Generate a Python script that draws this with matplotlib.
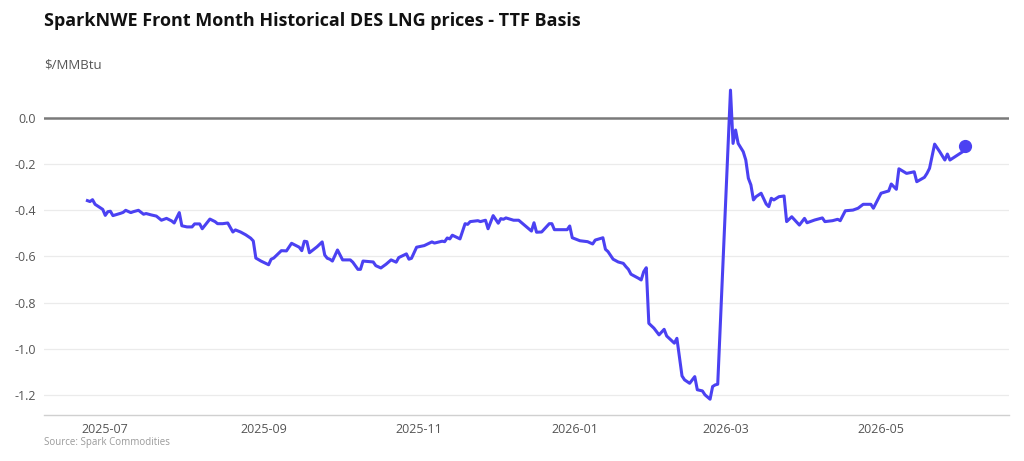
import pandas as pd
import matplotlib.pyplot as plt
import matplotlib.dates as mdates

plt.rcParams['font.family'] = ['Open Sans', 'DejaVu Sans']

# Front month DES LNG basis to TTF, $/MMBtu
dates = [
    "2025-06-24", "2025-06-25", "2025-06-26", "2025-06-27", "2025-06-30",
    "2025-07-01", "2025-07-02", "2025-07-03", "2025-07-04", "2025-07-07",
    "2025-07-08", "2025-07-09", "2025-07-11", "2025-07-12", "2025-07-14",
    "2025-07-16", "2025-07-17", "2025-07-19", "2025-07-21", "2025-07-23",
    "2025-07-25", "2025-07-27", "2025-07-28", "2025-07-30", "2025-07-31",
    "2025-08-02", "2025-08-04", "2025-08-05", "2025-08-07", "2025-08-08",
    "2025-08-11", "2025-08-13", "2025-08-14", "2025-08-16", "2025-08-18",
    "2025-08-20", "2025-08-21", "2025-08-23", "2025-08-25", "2025-08-27",
    "2025-08-28", "2025-08-29", "2025-08-31", "2025-09-03", "2025-09-04",
    "2025-09-05", "2025-09-08", "2025-09-10", "2025-09-12", "2025-09-15",
    "2025-09-16", "2025-09-17", "2025-09-18", "2025-09-19", "2025-09-22",
    "2025-09-24", "2025-09-25", "2025-09-26", "2025-09-27", "2025-09-28",
    "2025-09-30", "2025-10-02", "2025-10-05", "2025-10-06", "2025-10-08",
    "2025-10-09", "2025-10-10", "2025-10-13", "2025-10-14", "2025-10-15",
    "2025-10-17", "2025-10-19", "2025-10-21", "2025-10-23", "2025-10-24",
    "2025-10-27", "2025-10-28", "2025-10-29", "2025-10-31", "2025-11-03",
    "2025-11-06", "2025-11-07", "2025-11-10", "2025-11-11", "2025-11-12",
    "2025-11-13", "2025-11-14", "2025-11-17", "2025-11-19", "2025-11-20",
    "2025-11-21", "2025-11-24", "2025-11-25", "2025-11-27", "2025-11-28",
    "2025-11-30", "2025-12-02", "2025-12-03", "2025-12-04", "2025-12-05",
    "2025-12-08", "2025-12-10", "2025-12-13", "2025-12-15", "2025-12-16",
    "2025-12-17", "2025-12-19", "2025-12-22", "2025-12-23", "2025-12-24",
    "2025-12-29", "2025-12-30", "2025-12-31", "2026-01-02", "2026-01-03",
    "2026-01-06", "2026-01-08", "2026-01-09", "2026-01-12", "2026-01-13",
    "2026-01-14", "2026-01-16", "2026-01-18", "2026-01-20", "2026-01-21",
    "2026-01-22", "2026-01-23", "2026-01-26", "2026-01-27", "2026-01-28",
    "2026-01-29", "2026-01-30", "2026-02-01", "2026-02-03", "2026-02-05",
    "2026-02-06", "2026-02-09", "2026-02-10", "2026-02-12", "2026-02-13",
    "2026-02-15", "2026-02-17", "2026-02-18", "2026-02-20", "2026-02-21",
    "2026-02-23", "2026-02-24", "2026-02-25", "2026-02-26", "2026-03-03",
    "2026-03-04", "2026-03-05", "2026-03-06", "2026-03-08", "2026-03-09",
    "2026-03-10", "2026-03-11", "2026-03-12", "2026-03-13", "2026-03-15",
    "2026-03-17", "2026-03-18", "2026-03-19", "2026-03-20", "2026-03-22",
    "2026-03-24", "2026-03-25", "2026-03-27", "2026-03-30", "2026-04-01",
    "2026-04-02", "2026-04-05", "2026-04-08", "2026-04-09", "2026-04-12",
    "2026-04-14", "2026-04-15", "2026-04-17", "2026-04-20", "2026-04-22",
    "2026-04-24", "2026-04-27", "2026-04-28", "2026-05-01", "2026-05-04",
    "2026-05-05", "2026-05-07", "2026-05-08", "2026-05-11", "2026-05-14",
    "2026-05-15", "2026-05-18", "2026-05-19", "2026-05-20", "2026-05-22",
    "2026-05-24", "2026-05-26", "2026-05-27", "2026-05-28", "2026-06-02",
    "2026-06-03",
]

prices = [
    -0.358, -0.362, -0.354, -0.374, -0.396,
    -0.422, -0.406, -0.404, -0.423, -0.413,
    -0.409, -0.400, -0.410, -0.406, -0.400,
    -0.417, -0.414, -0.420, -0.425, -0.443,
    -0.435, -0.446, -0.455, -0.410, -0.467,
    -0.472, -0.472, -0.459, -0.459, -0.480,
    -0.438, -0.449, -0.458, -0.458, -0.455,
    -0.494, -0.485, -0.494, -0.506, -0.521,
    -0.533, -0.607, -0.620, -0.636, -0.612,
    -0.607, -0.575, -0.576, -0.543, -0.560,
    -0.575, -0.534, -0.536, -0.584, -0.558,
    -0.537, -0.594, -0.608, -0.612, -0.620,
    -0.572, -0.615, -0.615, -0.625, -0.656,
    -0.656, -0.620, -0.623, -0.624, -0.640,
    -0.650, -0.634, -0.615, -0.625, -0.605,
    -0.589, -0.612, -0.608, -0.560, -0.553,
    -0.537, -0.542, -0.534, -0.536, -0.520,
    -0.524, -0.508, -0.524, -0.458, -0.461,
    -0.449, -0.445, -0.449, -0.443, -0.480,
    -0.423, -0.456, -0.436, -0.439, -0.433,
    -0.443, -0.443, -0.471, -0.490, -0.454,
    -0.495, -0.494, -0.458, -0.458, -0.484,
    -0.484, -0.468, -0.519, -0.528, -0.532,
    -0.536, -0.546, -0.529, -0.519, -0.569,
    -0.579, -0.612, -0.624, -0.630, -0.644,
    -0.656, -0.677, -0.695, -0.702, -0.666,
    -0.649, -0.890, -0.911, -0.940, -0.916,
    -0.945, -0.976, -0.955, -1.118, -1.135,
    -1.150, -1.121, -1.178, -1.183, -1.200,
    -1.219, -1.164, -1.157, -1.154, 0.121,
    -0.110, -0.052, -0.110, -0.146, -0.182,
    -0.261, -0.290, -0.355, -0.341, -0.326,
    -0.373, -0.384, -0.348, -0.355, -0.341,
    -0.338, -0.449, -0.428, -0.464, -0.435,
    -0.454, -0.442, -0.433, -0.449, -0.445,
    -0.439, -0.445, -0.402, -0.399, -0.391,
    -0.374, -0.374, -0.391, -0.326, -0.316,
    -0.286, -0.309, -0.220, -0.240, -0.233,
    -0.276, -0.257, -0.240, -0.218, -0.113,
    -0.146, -0.182, -0.156, -0.182, -0.146,
    -0.121,
]

y_ticks = [0.0, -0.2, -0.4, -0.6, -0.8, -1.0, -1.2]
x_ticks = ["2025-07", "2025-09", "2025-11", "2026-01", "2026-03", "2026-05"]

df = pd.DataFrame({"date": pd.to_datetime(dates), "price": prices})

line_color = "#4b41f2"

fig = plt.figure(figsize=(10.24, 4.61), dpi=100)
ax = fig.add_axes([0.043, 0.10, 0.942, 0.72])

for t in y_ticks:
    if t == 0:
        ax.axhline(t, color="#7a7a7a", lw=1.8, zorder=1)
    else:
        ax.axhline(t, color="#ebebeb", lw=0.9, zorder=0)

ax.plot(df["date"], df["price"], color=line_color, lw=2.2, zorder=3,
        solid_joinstyle="round")
ax.plot(df["date"].iloc[-1], df["price"].iloc[-1], "o", color=line_color,
        markersize=8.5, zorder=4)

ax.set_ylim(-1.287, 0.152)
ax.set_xlim(pd.Timestamp("2025-06-07"), pd.Timestamp("2026-06-20"))
ax.set_yticks(y_ticks)
ax.set_yticklabels([f"{t:.1f}" for t in y_ticks])
ax.set_xticks(pd.to_datetime(x_ticks))
ax.xaxis.set_major_formatter(mdates.DateFormatter("%Y-%m"))

for s in ["top", "right", "left"]:
    ax.spines[s].set_visible(False)
ax.spines["bottom"].set_color("#d0d0d0")
ax.spines["bottom"].set_linewidth(1.0)
ax.tick_params(axis="both", length=0, labelsize=9, labelcolor="#555555")
ax.tick_params(axis="x", pad=6)
ax.tick_params(axis="y", pad=6)

fig.text(0.043, 0.955, "SparkNWE Front Month Historical DES LNG prices - TTF Basis",
         fontsize=13, fontweight="bold", color="#111111", va="center")
fig.text(0.043, 0.858, "$/MMBtu", fontsize=9.5, color="#555555", va="center")
fig.text(0.043, 0.040, "Source: Spark Commodities", fontsize=7, color="#9a9a9a",
         va="center")

fig.savefig("out.png", dpi=100)
